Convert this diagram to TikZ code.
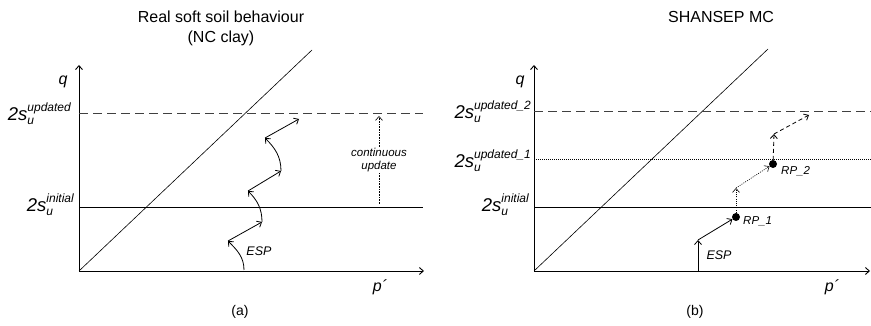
\documentclass[tikz,border=0pt]{standalone}
\usepackage{fontspec}
\setmainfont{Liberation Sans}
\usetikzlibrary{arrows.meta}
\newcommand\sulab[1]{2s\rlap{\raisebox{-4pt}{\fontsize{12}{12}\selectfont u}}\raisebox{9pt}{\fontsize{12}{12}\selectfont #1}}
\begin{document}
\begin{tikzpicture}[x=1pt, y=1pt, font=\itshape\fontsize{11.5}{13}\selectfont,
      >={Straight Barb[length=4pt,width=7pt]},
      axis/.style={line width=0.9pt, ->},
      limit/.style={line width=0.8pt},
      updline/.style={line width=1pt, black!75, dash pattern=on 9pt off 5pt},
      ylab/.style={anchor=base east, inner sep=0pt, font=\itshape\fontsize{18.5}{20}\selectfont},
      axlab/.style={font=\itshape\fontsize{16}{18}\selectfont},
      heading/.style={font=\upshape\fontsize{16}{18}\selectfont},
      caption/.style={font=\upshape\fontsize{14}{16}\selectfont},
      esp/.style={line width=0.8pt, ->},
      rp/.style={circle, fill, inner sep=0pt, minimum size=8pt}]
    \useasboundingbox (0,0) rectangle (871,326);
    % (a) real soft soil behaviour
    \node[heading] (titleA) at (221,309) {Real soft soil behaviour};
    \node[heading] (subA) at (221,288) {(NC clay)};
    \draw[axis] (79,55) -- (79,261);
    \draw[axis] (79,55) -- (424,55);
    \draw[line width=0.6pt] (79,55) -- (312,276);
    \draw[updline] (79,212) -- (423,212);
    \draw[limit] (79,119) -- (423,119);
    \node[ylab] (suUpdA) at (71,205) {\sulab{updated}};
    \node[ylab] (suIniA) at (74,114) {\sulab{initial}};
    \node[axlab] (qA) at (63,244) {q};
    \node[axlab] (pA) at (380,39) {p´};
    \node[caption] (capA) at (240,14) {(a)};
    \node[font=\itshape\fontsize{12.5}{14}\selectfont] (espA) at (259,75) {ESP};
    \node[align=center, inner sep=1pt] (contA) at (379,166) {continuous\\update};
    \draw[densely dotted, line width=0.6pt] (379,122) -- (contA.south);
    \draw[densely dotted, line width=0.6pt, ->] (contA.north) -- (379,210);
    \coordinate (e0) at (244,56);
    \coordinate (e1) at (228,85);
    \coordinate (e2) at (262,104);
    \coordinate (e3) at (248,135);
    \coordinate (e4) at (281,155);
    \coordinate (e5) at (265,188);
    \coordinate (e6) at (299,207);
    \draw[esp] (e0) to[out=90, in=-45] (e1);
    \draw[esp] (e1) -- (e2);
    \draw[esp] (e2) to[out=90, in=-45] (e3);
    \draw[esp] (e3) -- (e4);
    \draw[esp] (e4) to[out=90, in=-45] (e5);
    \draw[esp] (e5) -- (e6);
    % (b) SHANSEP MC
    \node[heading] (titleB) at (721,309) {SHANSEP MC};
    \draw[axis] (534,55) -- (534,261);
    \draw[axis] (534,55) -- (870,55);
    \draw[line width=0.6pt] (534,55) -- (768,277);
    \draw[updline] (534,214) -- (871,214);
    \draw[line width=0.6pt, dash pattern=on 1pt off 1pt] (534,167) -- (871,167);
    \draw[limit] (534,119) -- (871,119);
    \node[ylab] (suUpd2B) at (531,207) {\sulab{updated\_2}};
    \node[ylab] (suUpd1B) at (531,158) {\sulab{updated\_1}};
    \node[ylab] (suIniB) at (529,114) {\sulab{initial}};
    \node[axlab] (qB) at (520,244) {q};
    \node[axlab] (pB) at (832,39) {p´};
    \node[caption] (capB) at (695,14) {(b)};
    \node[font=\itshape\fontsize{12.5}{14}\selectfont] (espB) at (719,71) {ESP};
    \node[rp] (rp1) at (736,109) {};
    \node[rp] (rp2) at (773,162) {};
    \node[anchor=west, inner sep=0pt] (rp1lab) at (743,105) {RP\_1};
    \node[anchor=west, inner sep=0pt] (rp2lab) at (781,155) {RP\_2};
    \coordinate (s0) at (698,55);
    \coordinate (s1) at (698,86);
    \coordinate (s2) at (736,138);
    \coordinate (s3) at (774,192);
    \coordinate (s4) at (809,211);
    \draw[esp] (s0) -- (s1);
    \draw[esp] (s1) -- (rp1);
    \draw[esp, line width=0.6pt, dash pattern=on 1pt off 1.2pt] (rp1) -- (s2);
    \draw[esp, line width=0.6pt, dash pattern=on 1pt off 1.2pt] (s2) -- (rp2);
    \draw[esp, dash pattern=on 4pt off 3pt] (rp2) -- (s3);
    \draw[esp, dash pattern=on 4pt off 3pt] (s3) -- (s4);
  \end{tikzpicture}
\end{document}
